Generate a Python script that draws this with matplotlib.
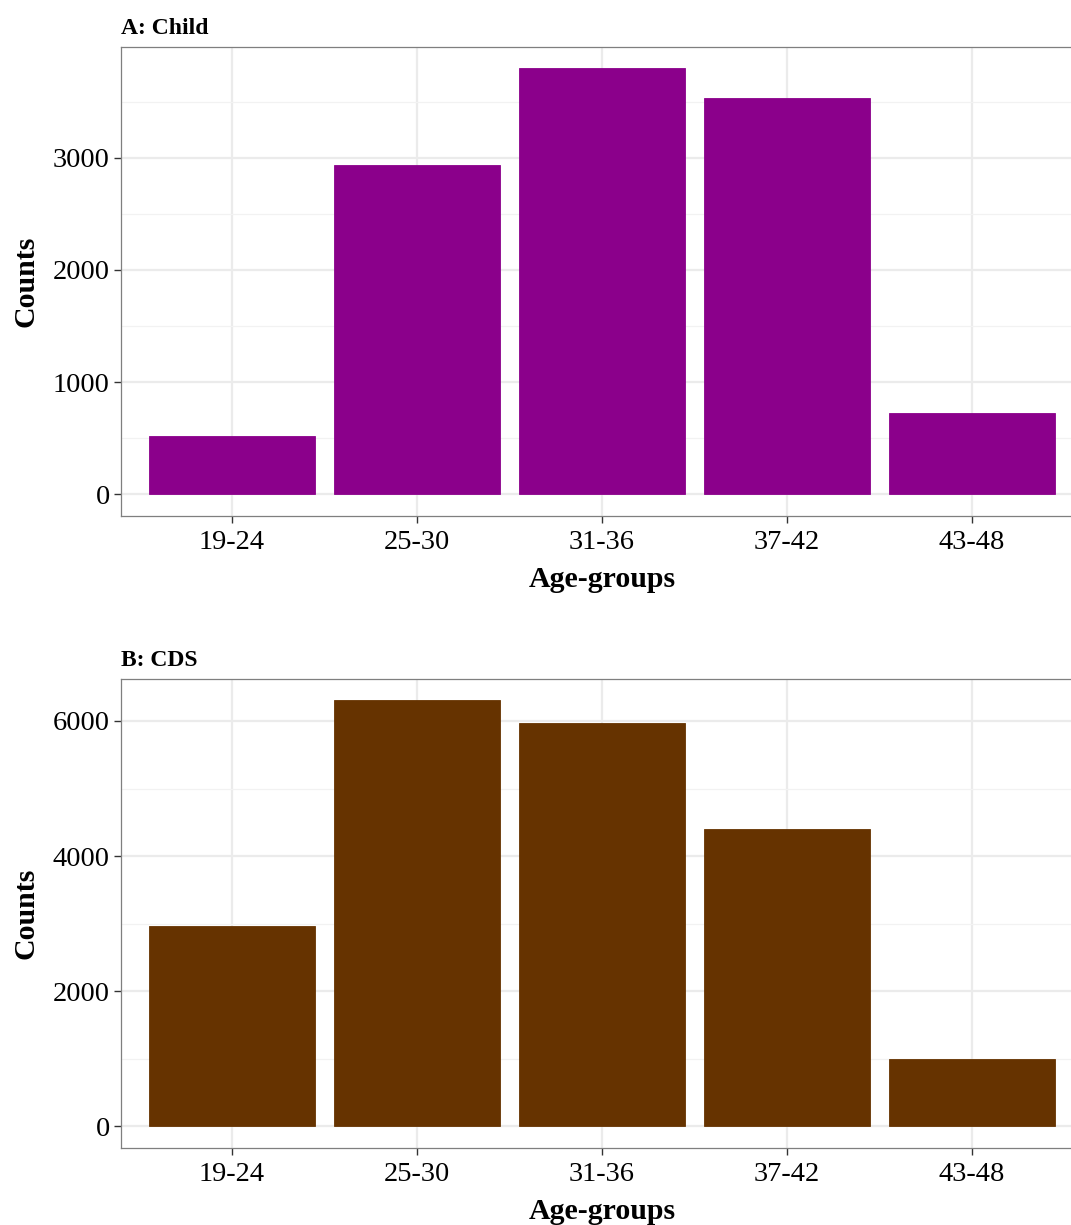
import numpy as np
import matplotlib.pyplot as plt
from matplotlib.ticker import MultipleLocator

plt.rcParams['font.family'] = ['Liberation Serif', 'DejaVu Serif']

age_groups = ["19-24", "25-30", "31-36", "37-42", "43-48"]
child_counts = [516, 2938, 3801, 3534, 721]
cds_counts = [2963, 6311, 5970, 4400, 993]

# panel box runs a little past the right edge of the canvas
panels = [
    ("A: Child", child_counts, "#8B008B", 1000, [0.113, 0.579, 0.898, 0.383]),
    ("B: CDS", cds_counts, "#663300", 2000, [0.113, 0.063, 0.898, 0.383]),
]

fig = plt.figure(figsize=(10.71, 12.25), dpi=100)

for title, counts, color, step, rect in panels:
    ax = fig.add_axes(rect)
    x = np.arange(len(age_groups))
    ax.bar(x, counts, width=0.9, color=color, edgecolor=color, linewidth=0.6,
           zorder=2)

    top = max(counts)
    pad = top * 0.05
    ax.set_ylim(-pad, top + pad)
    ax.set_xlim(-0.6, len(age_groups) - 0.4)

    ax.set_xticks(x)
    ax.set_xticklabels(age_groups)
    ax.yaxis.set_major_locator(MultipleLocator(step))
    ax.yaxis.set_minor_locator(MultipleLocator(step / 2))

    ax.grid(True, which='major', color='#EBEBEB', lw=1.6, zorder=0)
    ax.grid(True, which='minor', axis='y', color='#F2F2F2', lw=0.9, zorder=0)
    ax.set_axisbelow(True)

    for s in ax.spines.values():
        s.set_color('#7F7F7F')
        s.set_linewidth(0.9)

    ax.tick_params(which='major', length=5, width=1.0, color='#333333',
                   labelsize=20.5, pad=3)
    ax.tick_params(axis='x', pad=5)
    ax.tick_params(which='minor', length=0)

    ax.set_xlabel("Age-groups", fontsize=21.5, fontweight='bold', labelpad=8)
    ax.set_ylabel("Counts", fontsize=21.5, fontweight='bold', labelpad=10)
    ax.set_title(title, loc='left', fontsize=17, fontweight='bold', pad=9)

fig.savefig("out.png", dpi=100)
